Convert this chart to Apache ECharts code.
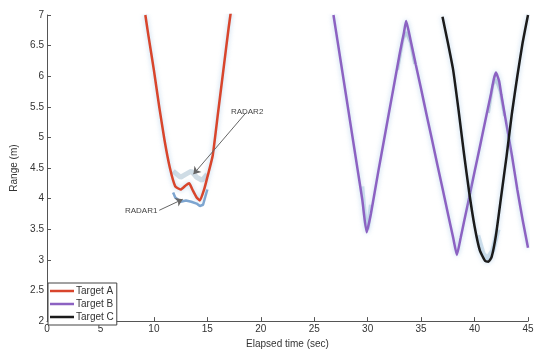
<!DOCTYPE html>
<html>
<head>
<meta charset="utf-8">
<script src="https://cdn.jsdelivr.net/npm/echarts@6/dist/echarts.min.js"></script>
<style>
  html, body { margin: 0; padding: 0; background: #fff; }
  #main { width: 541px; height: 354px; }
</style>
</head>
<body>
<div id="main"></div>
<script>
// elapsed time (sec) / range (m)
const timeA = [9.2, 9.5, 10, 10.5, 11, 11.5, 12, 12.5, 13, 13.3, 13.6, 14, 14.3, 14.7, 15, 15.5, 16, 16.5, 17, 17.2]
const rangeA = [7.0, 6.65, 6.1, 5.5, 4.95, 4.5, 4.2, 4.15, 4.22, 4.25, 4.15, 4.02, 3.97, 4.15, 4.35, 4.7, 5.4, 6.1, 6.8, 7.05]

const timeB = [26.8, 27.5, 28, 28.5, 29, 29.5, 29.9, 30.3, 31, 31.5, 32, 32.5, 33, 33.4, 33.6, 34, 34.5, 35, 35.5, 36, 36.5, 37, 37.5, 38, 38.35, 38.7, 39, 39.5, 40, 40.5, 41, 41.5, 41.8, 42, 42.3, 42.5, 43, 43.5, 44, 44.5, 45]
const rangeB = [7.0, 6.22, 5.66, 5.1, 4.54, 3.98, 3.45, 3.75, 4.45, 4.93, 5.41, 5.89, 6.37, 6.72, 6.9, 6.6, 6.19, 5.79, 5.38, 4.98, 4.57, 4.17, 3.76, 3.36, 3.08, 3.36, 3.61, 4.02, 4.44, 4.85, 5.27, 5.68, 5.95, 6.06, 5.92, 5.7, 5.2, 4.7, 4.15, 3.65, 3.2]

const timeC = [37, 37.5, 38, 38.5, 39, 39.5, 40, 40.5, 41, 41.3, 41.6, 42, 42.5, 43, 43.5, 44, 44.5, 45]
const rangeC = [6.97, 6.55, 6.1, 5.45, 4.75, 4.1, 3.55, 3.15, 2.98, 2.97, 3.05, 3.4, 4.05, 4.7, 5.4, 6.0, 6.55, 7.0]

// radar measurement traces (only where they show apart from the targets)
const radar1Dip = [[11.8, 4.1], [12, 4.02], [12.5, 3.95], [13, 3.97], [13.5, 3.95], [14, 3.92], [14.3, 3.88], [14.6, 3.9], [15, 4.15]]
const radar2Dip = [[11.8, 4.45], [12.5, 4.35], [13, 4.4], [13.5, 4.45], [14, 4.35], [14.5, 4.3], [15, 4.4]]
const radar2PeakB1 = [[32.8, 6.1], [33.3, 6.6], [33.6, 6.72], [34, 6.55], [34.4, 6.2]]
const radar2PeakB2 = [[41.3, 5.4], [41.7, 5.85], [42, 5.95], [42.4, 5.75], [42.8, 5.35]]
const radar2MinB = [[29.5, 4.2], [29.8, 3.6], [30, 3.5], [30.3, 3.9]]
const radar2MinC = [[40.3, 3.4], [40.8, 3.1], [41.2, 3.02], [41.7, 3.15], [42.2, 3.5]]

const xTicks = { min: 0, max: 45, step: 5 }
const yTicks = { min: 2, max: 7, step: 0.5 }

const zip = (xs, ys) => xs.map((x, i) => [x, ys[i]])

const textColor = '#333'
const axisColor = '#555'
const font = 'Liberation Sans, Arial, sans-serif'
const halo = 'rgba(150, 190, 225, 0.7)'

const radarSeries = (data, color, width) => ({
  type: 'line',
  data,
  showSymbol: false,
  silent: true,
  z: 1,
  lineStyle: { color, width, opacity: 0.8 }
})

const targetSeries = (name, xs, ys, color) => ({
  name,
  type: 'line',
  data: zip(xs, ys),
  showSymbol: false,
  smooth: 0.15,
  z: 3,
  color,
  lineStyle: { width: 2.5, color, shadowColor: halo, shadowBlur: 5 }
})

const chart = echarts.init(document.getElementById('main'), null, { renderer: 'canvas' })

const seriesA = targetSeries('Target A', timeA, rangeA, '#d8452c')
seriesA.markLine = {
  silent: true,
  symbol: ['none', 'arrow'],
  symbolSize: 7,
  lineStyle: { color: '#666', width: 1, type: 'solid', shadowBlur: 0 },
  label: {
    show: true,
    position: 'start',
    fontSize: 8,
    color: '#444',
    fontFamily: font,
    distance: 2
  },
  data: [
    [{ coord: [18.6, 5.4], name: 'RADAR2', label: { formatter: 'RADAR2' } }, { coord: [13.7, 4.4] }],
    [{ coord: [10.5, 3.81], name: 'RADAR1', label: { formatter: 'RADAR1' } }, { coord: [12.7, 3.99] }]
  ]
}

const option = {
  animation: false,
  backgroundColor: '#fff',
  grid: { left: 47, right: 13, top: 15, bottom: 28 },
  textStyle: { fontFamily: font, color: textColor },
  legend: {
    left: 48,
    bottom: 29,
    orient: 'vertical',
    data: ['Target A', 'Target B', 'Target C'],
    icon: 'rect',
    itemWidth: 24,
    itemHeight: 2.5,
    itemGap: 3,
    padding: [3, 3, 3, 2],
    borderColor: '#444',
    borderWidth: 1,
    backgroundColor: '#fff',
    textStyle: { fontSize: 10, color: textColor, fontFamily: font, padding: [0, 0, 0, -3] }
  },
  xAxis: {
    type: 'value',
    min: xTicks.min,
    max: xTicks.max,
    interval: xTicks.step,
    name: 'Elapsed time (sec)',
    nameLocation: 'middle',
    nameGap: 15,
    nameTextStyle: { fontSize: 10, color: textColor, fontFamily: font },
    axisLine: { lineStyle: { color: axisColor, width: 1 } },
    axisTick: { inside: true, length: 4, lineStyle: { color: axisColor } },
    axisLabel: { fontSize: 10, color: textColor, margin: 3 },
    splitLine: { show: false }
  },
  yAxis: {
    type: 'value',
    min: yTicks.min,
    max: yTicks.max,
    interval: yTicks.step,
    name: 'Range (m)',
    nameLocation: 'middle',
    nameGap: 24,
    nameRotate: 90,
    nameTextStyle: { fontSize: 10, color: textColor, fontFamily: font },
    axisLine: { show: true, lineStyle: { color: axisColor, width: 1 } },
    axisTick: { show: true, inside: true, length: 4, lineStyle: { color: axisColor } },
    axisLabel: { fontSize: 10, color: textColor, margin: 3 },
    splitLine: { show: false }
  },
  series: [
    radarSeries(radar2Dip, '#c3d3de', 5),
    radarSeries(radar2PeakB1, '#b9cbd8', 3),
    radarSeries(radar2PeakB2, '#b9cbd8', 3),
    radarSeries(radar2MinB, '#c8dbe8', 4),
    radarSeries(radar2MinC, '#c8dbe8', 5),
    radarSeries(radar1Dip, '#5d8ec4', 2.5),
    seriesA,
    targetSeries('Target B', timeB, rangeB, '#8c62c2'),
    targetSeries('Target C', timeC, rangeC, '#1b1b1b')
  ]
}

chart.setOption(option)
</script>
</body>
</html>
